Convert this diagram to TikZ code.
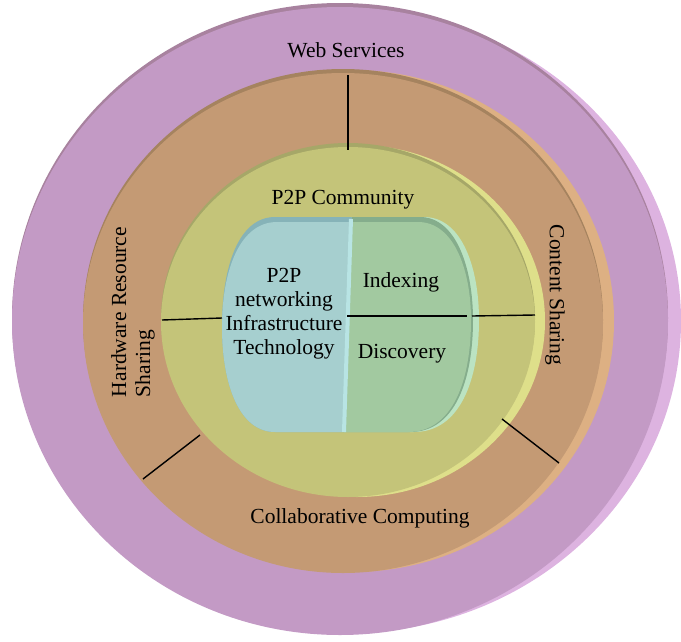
\documentclass[tikz,border=0pt]{standalone}
\usepackage{fontspec}
\setmainfont{Liberation Serif}
\usetikzlibrary{positioning}

\definecolor{webpurple}{HTML}{C39AC5}
\definecolor{webrim}{HTML}{DDB3E0}
\definecolor{webshade}{HTML}{A8829F}
\definecolor{apptan}{HTML}{C49A74}
\definecolor{apprim}{HTML}{DDB083}
\definecolor{appshade}{HTML}{A5835F}
\definecolor{commyellow}{HTML}{C4C479}
\definecolor{commrim}{HTML}{DEDF8A}
\definecolor{commshade}{HTML}{A6A768}
\definecolor{infracyan}{HTML}{A6CFCF}
\definecolor{infrashade}{HTML}{86B3B8}
\definecolor{infraedge}{HTML}{B8E4E4}
\definecolor{idxgreen}{HTML}{A2C9A0}
\definecolor{idxrim}{HTML}{BBE3C2}
\definecolor{idxshade}{HTML}{85AD8C}

\begin{document}
\begin{tikzpicture}[x=1pt,y=-1pt]
	\tikzstyle{every node}+=[inner sep=0pt, font=\fontsize{21.5}{24}\selectfont]
	\tikzstyle{sep}=[black, line width=1.4pt]
	\useasboundingbox (0,0) rectangle (681,641);
	% outer ring
	\fill [webrim] (348,321) ellipse [x radius=333, y radius=312];
	\fill [webshade] (340,318) ellipse [x radius=328, y radius=315];
	\fill [webpurple] (340,321) ellipse [x radius=328, y radius=314];
	% middle ring
	\fill [apprim] (352,321) ellipse [x radius=262, y radius=251];
	\fill [appshade] (343,320) ellipse [x radius=260, y radius=251];
	\fill [apptan] (343,323) ellipse [x radius=260, y radius=250];
	% inner ring
	\fill [commrim] (357,321) ellipse [x radius=188, y radius=176];
	\fill [commshade] (348,319) ellipse [x radius=187, y radius=176];
	\fill [commyellow] (348,322) ellipse [x radius=187, y radius=175];
	% core, left half
	\fill [infrashade] (352,217) -- (275,217) .. controls (238,217) and (222,268) .. (222,326)
		.. controls (222,386) and (240,432) .. (275,432) -- (343,432) -- cycle;
	\fill [infracyan] (352,222) -- (277,222) .. controls (240,222) and (222,270) .. (222,327)
		.. controls (222,386) and (240,432) .. (275,432) -- (343,432) -- cycle;
	% core, right half
	\fill [idxrim] (352,217) -- (424,217) .. controls (462,217) and (479,268) .. (479,320)
		.. controls (479,380) and (460,432) .. (414,432) -- (343,432) -- cycle;
	\fill [idxshade] (352,217) -- (420,217) .. controls (456,217) and (473,268) .. (473,320)
		.. controls (473,380) and (455,432) .. (410,432) -- (343,432) -- cycle;
	\fill [idxgreen] (352,222) -- (418,222) .. controls (454,222) and (471,270) .. (471,320)
		.. controls (471,380) and (453,432) .. (408,432) -- (343,432) -- cycle;
	\draw [infraedge, line width=4pt] (351,219) -- (344,432);

	\coordinate (wsA) at (348,75);
	\coordinate (wsB) at (348,150);
	\coordinate (hwA) at (162,320);
	\coordinate (hwB) at (222,318);
	\coordinate (csA) at (472,316);
	\coordinate (csB) at (535,315);
	\coordinate (ccA) at (200,435);
	\coordinate (ccB) at (143,479);
	\coordinate (cdA) at (502,419);
	\coordinate (cdB) at (559,463);
	\coordinate (idxA) at (347,316);
	\coordinate (idxB) at (467,316);
	\draw [sep] (wsA) -- (wsB);
	\draw [sep] (hwA) -- (hwB);
	\draw [sep] (csA) -- (csB);
	\draw [sep] (ccA) -- (ccB);
	\draw [sep] (cdA) -- (cdB);
	\draw [sep] (idxA) -- (idxB);

	\node (websrv) at (346,50) {Web Services};
	\node (community) at (343,200) {P2P Community};
	\node (collab) at (360,518) {Collaborative Computing};
	\node (hwshare) [rotate=90, align=left] at (133,312) {Hardware Resource\\Sharing};
	\node (cshare) [rotate=-90] at (555,295) {Content Sharing};
	\node (infra) [align=center] at (284,314) {P2P\\networking\\Infrastructure\\Technology};
	\node (indexing) at (401,282) {Indexing};
	\node (discovery) at (402,354) {Discovery};
\end{tikzpicture}
\end{document}
